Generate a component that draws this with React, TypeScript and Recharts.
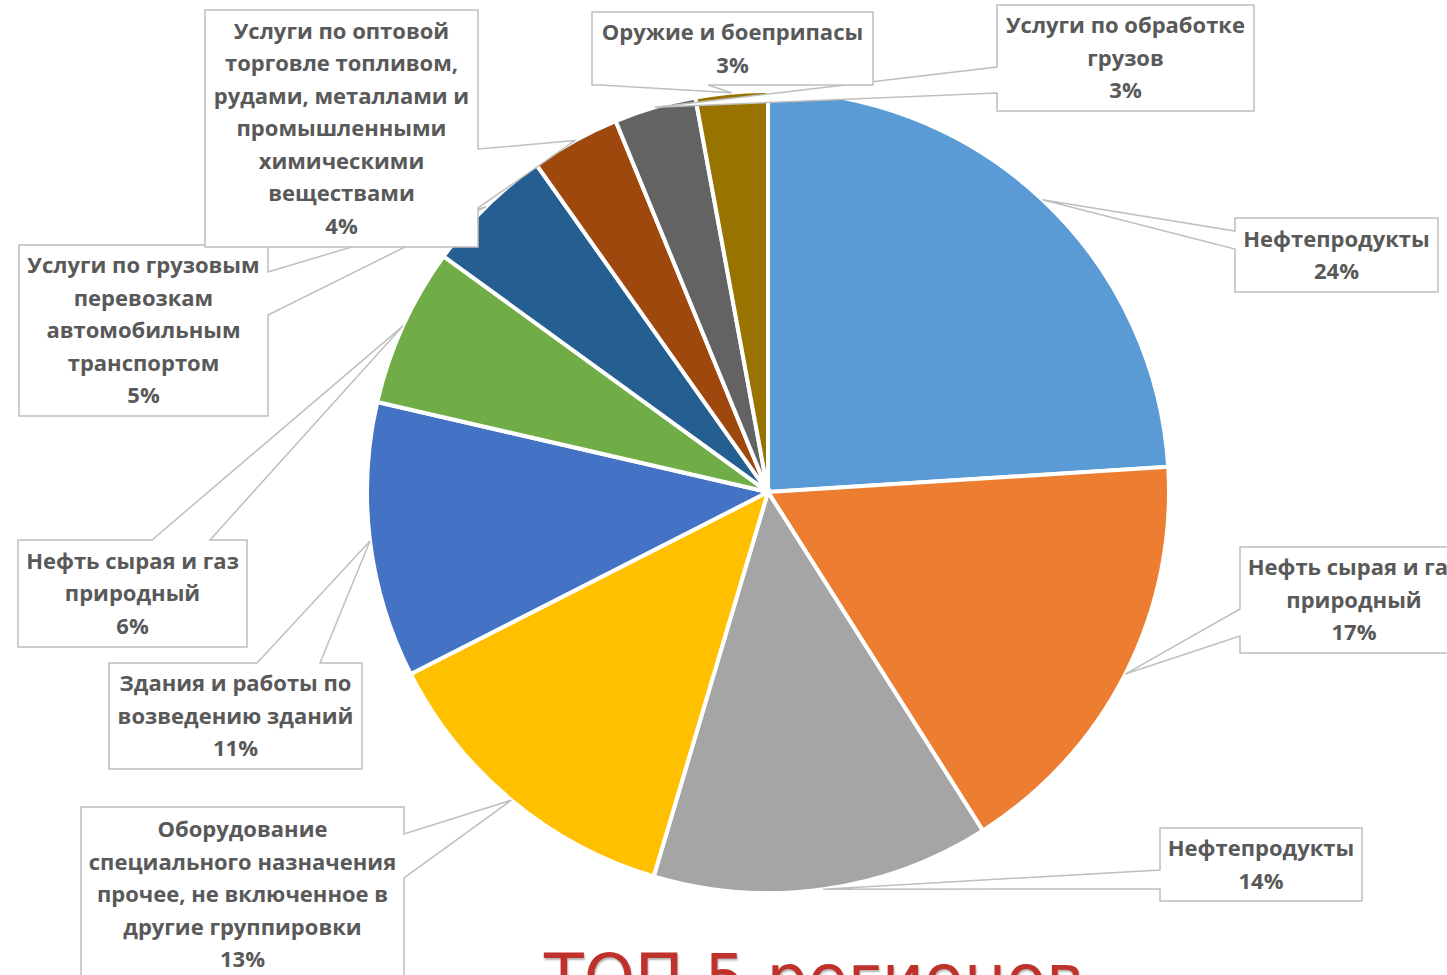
import { PieChart, Pie, Cell } from 'recharts'

const categories = [
  'Нефтепродукты',
  'Нефть сырая и газ\nприродный',
  'Нефтепродукты',
  'Оборудование\nспециального назначения\nпрочее, не включенное в\nдругие группировки',
  'Здания и работы по\nвозведению зданий',
  'Нефть сырая и газ\nприродный',
  'Услуги по грузовым\nперевозкам\nавтомобильным\nтранспортом',
  'Услуги по оптовой\nторговле топливом,\nрудами, металлами и\nпромышленными\nхимическими\nвеществами',
  'Услуги по обработке\nгрузов',
  'Оружие и боеприпасы',
]
const shares = [24.0, 17.0, 13.6, 12.9, 11.1, 6.4, 5.2, 3.6, 3.3, 2.9]
const colors = [
  '#5B9BD5', '#ED7D31', '#A5A5A5', '#FFC000', '#4472C4',
  '#70AD47', '#255E91', '#9E480E', '#636363', '#997300',
]
const caption = 'ТОП 5 регионов'

const data = categories.map((name, i) => ({ name, value: shares[i] }))

// callout boxes in page px; the wedge leaves the box from `side` between a and b
const callouts = [
  { x: 1235, y: 218, w: 203, h: 74, side: 'left', a: 231, b: 249 },
  { x: 1240, y: 547, w: 228, h: 106, side: 'left', a: 609, b: 636 },
  { x: 1160, y: 828, w: 202, h: 73, side: 'left', a: 870, b: 889 },
  { x: 81, y: 807, w: 323, h: 175, side: 'right', a: 834, b: 878 },
  { x: 109, y: 663, w: 253, h: 106, side: 'top', a: 257, b: 320 },
  { x: 18, y: 540, w: 229, h: 107, side: 'top', a: 152, b: 210 },
  { x: 19, y: 245, w: 249, h: 171, side: 'right', a: 272, b: 315 },
  { x: 205, y: 10, w: 273, h: 237, side: 'right', a: 149, b: 208 },
  { x: 997, y: 5, w: 257, h: 106, side: 'left', a: 67, b: 93 },
  { x: 592, y: 12, w: 281, h: 73, side: 'bottom', a: 600, b: 708 },
]

const RAD = Math.PI / 180
const LH = 32.5
const FS = 22

function calloutPath(c: any, tx: number, ty: number) {
  const { x, y, w, h, side, a, b } = c
  const r = x + w
  const btm = y + h
  let d = `M${x},${y}`
  if (side === 'top') d += ` L${a},${y} L${tx},${ty} L${b},${y}`
  d += ` L${r},${y}`
  if (side === 'right') d += ` L${r},${a} L${tx},${ty} L${r},${b}`
  d += ` L${r},${btm}`
  if (side === 'bottom') d += ` L${b},${btm} L${tx},${ty} L${a},${btm}`
  d += ` L${x},${btm}`
  if (side === 'left') d += ` L${x},${b} L${tx},${ty} L${x},${a}`
  return d + ' Z'
}

function Callout(props: any) {
  const { cx, cy, midAngle, outerRadius, index, percent, name } = props
  const c = callouts[index]
  const tx = cx + outerRadius * Math.cos(-midAngle * RAD)
  const ty = cy + outerRadius * Math.sin(-midAngle * RAD)
  const lines = [...String(name).split('\n'), `${Math.round(percent * 100)}%`]
  const top = c.y + (c.h - lines.length * LH) / 2
  return (
    <g>
      <path d={calloutPath(c, tx, ty)} fill="#fff" stroke="#BFBFBF" strokeWidth={1.5} />
      {lines.map((t, i) => (
        <text key={i} x={c.x + c.w / 2} y={top + LH * (i + 0.5) + FS * 0.36}
          textAnchor="middle" fill="#595959" fontSize={FS} fontWeight={700}
          fontFamily='"Open Sans", sans-serif'>
          {t}
        </text>
      ))}
    </g>
  )
}

export default function App() {
  return (
    <div style={{
      position: 'absolute', left: 0, top: 0, width: 1447, height: 975,
      overflow: 'hidden', background: '#fff',
    }}>
      <PieChart width={1447} height={975} margin={{ top: 0, right: 0, bottom: 0, left: 0 }}>
        <Pie
          data={data}
          dataKey="value"
          nameKey="name"
          cx={768}
          cy={492}
          outerRadius={401}
          startAngle={90}
          endAngle={-270}
          stroke="#fff"
          strokeWidth={4}
          label={Callout}
          labelLine={false}
          isAnimationActive={false}
        >
          {data.map((_, i) => <Cell key={i} fill={colors[i]} />)}
        </Pie>
      </PieChart>
      <div style={{
        position: 'absolute', left: 544, top: 946, fontSize: 65, lineHeight: '65px',
        fontFamily: '"DejaVu Sans", sans-serif', color: '#C0312B',
        whiteSpace: 'nowrap', textShadow: '1px 2px 2px rgba(0,0,0,0.3)',
      }}>
        {caption}
      </div>
    </div>
  )
}
